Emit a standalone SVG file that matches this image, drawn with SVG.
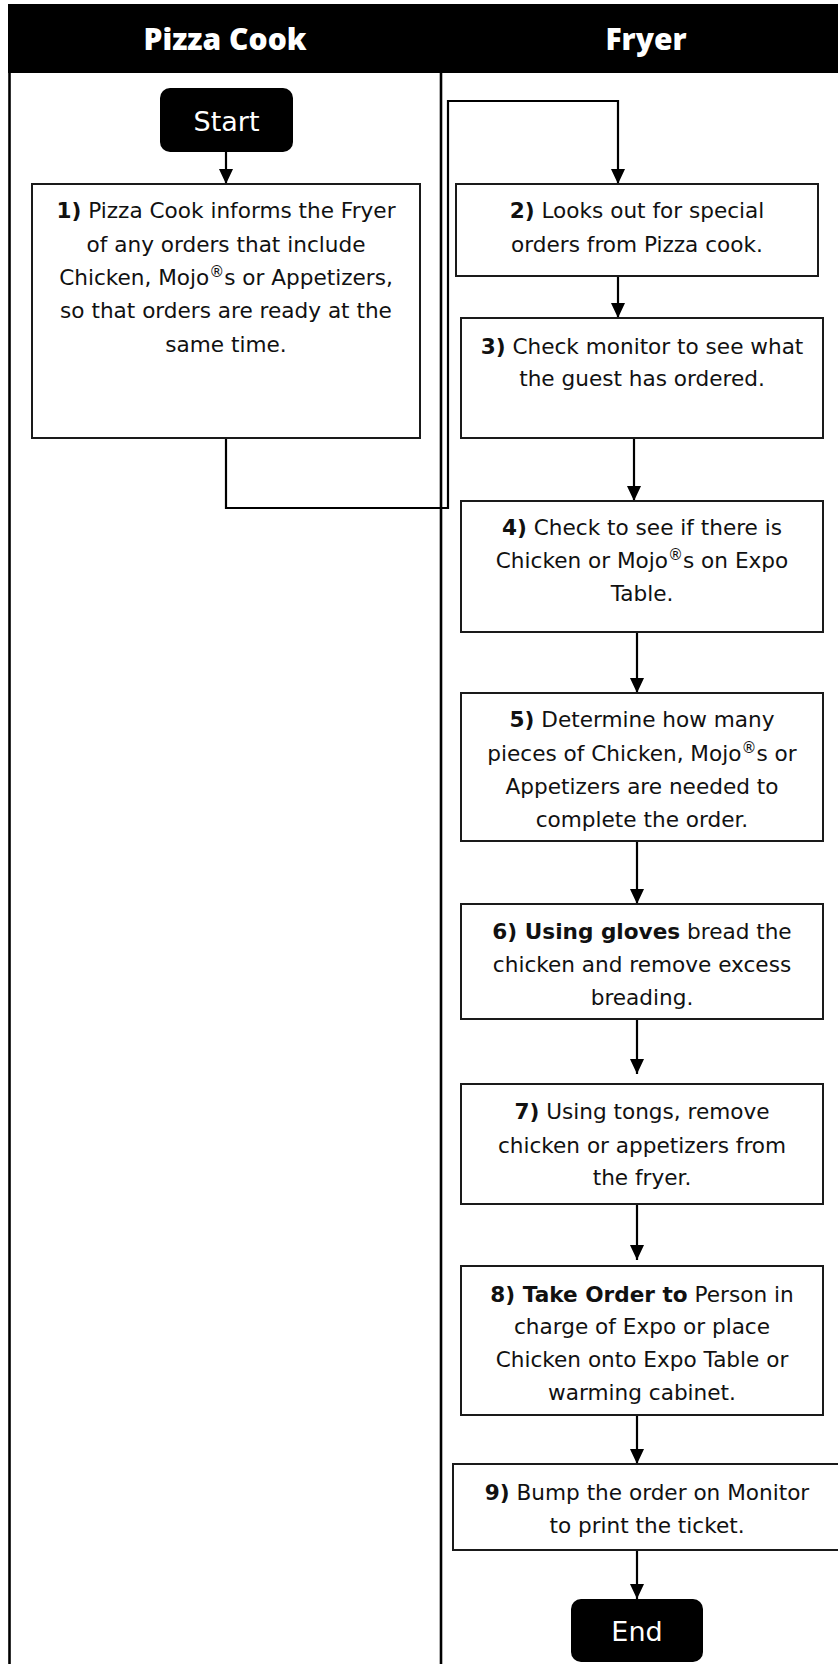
<svg xmlns="http://www.w3.org/2000/svg" width="838" height="1664" viewBox="0 0 838 1664">
<defs>
<style>
.lane{fill:#000}
.hdr{font-family:"Open Sans","Liberation Sans",sans-serif;font-weight:800;font-size:30px;fill:#fff;text-anchor:middle}
.box{fill:#fff;stroke:#1a1a1a;stroke-width:2}
.term{fill:#000}
.tt{font-family:"DejaVu Sans","Liberation Sans",sans-serif;font-size:27px;fill:#fff;text-anchor:middle}
.t{font-family:"DejaVu Sans","Liberation Sans",sans-serif;font-size:21.6px;fill:#111;text-anchor:middle}
.b{font-weight:bold}
.sup{font-size:15px}
.conn{fill:none;stroke:#000;stroke-width:2.2}
.line{stroke:#000;stroke-width:2.6}
</style>
<marker id="ah" viewBox="0 0 15 14" refX="15" refY="7" markerWidth="15" markerHeight="14" markerUnits="userSpaceOnUse" orient="auto">
<path d="M0,0 L15,7 L0,14 Z" fill="#000"/>
</marker>
</defs>
<rect width="838" height="1664" fill="#fff"/>
<g id="lanes">
<rect class="lane" x="8" y="4" width="845" height="69"/>
<line class="line" x1="9.5" y1="72" x2="9.5" y2="1664"/>
<line class="line" x1="441" y1="72" x2="441" y2="1664"/>
<text class="hdr" x="225" y="50">Pizza Cook</text>
<text class="hdr" x="646" y="50">Fryer</text>
</g>
<g id="connectors">
<line class="conn" x1="226" y1="152" x2="226" y2="184" marker-end="url(#ah)"/>
<polyline class="conn" points="226,438 226,508 448,508 448,101 618,101 618,184" marker-end="url(#ah)"/>
<line class="conn" x1="618" y1="276" x2="618" y2="318" marker-end="url(#ah)"/>
<line class="conn" x1="634" y1="438" x2="634" y2="501" marker-end="url(#ah)"/>
<line class="conn" x1="637" y1="632" x2="637" y2="693" marker-end="url(#ah)"/>
<line class="conn" x1="637" y1="841" x2="637" y2="904" marker-end="url(#ah)"/>
<line class="conn" x1="637" y1="1019" x2="637" y2="1074" marker-end="url(#ah)"/>
<line class="conn" x1="637" y1="1204" x2="637" y2="1260" marker-end="url(#ah)"/>
<line class="conn" x1="637" y1="1415" x2="637" y2="1464" marker-end="url(#ah)"/>
<line class="conn" x1="637" y1="1550" x2="637" y2="1599" marker-end="url(#ah)"/>
</g>
<g id="start">
<rect class="term" x="160" y="88" width="133" height="64" rx="10"/>
<text class="tt" x="226.5" y="131">Start</text>
</g>
<g id="step1">
<rect class="box" x="32" y="184" width="388" height="254"/>
<text class="t" x="226" y="218"><tspan class="b">1)</tspan> Pizza Cook informs the Fryer</text>
<text class="t" x="226" y="252">of any orders that include</text>
<text class="t" x="226" y="285">Chicken, Mojo<tspan class="sup" dy="-8">®</tspan><tspan dy="8">s or Appetizers,</tspan></text>
<text class="t" x="226" y="318">so that orders are ready at the</text>
<text class="t" x="226" y="352">same time.</text>
</g>
<g id="step2">
<rect class="box" x="456" y="184" width="362" height="92"/>
<text class="t" x="637" y="218"><tspan class="b">2)</tspan> Looks out for special</text>
<text class="t" x="637" y="252">orders from Pizza cook.</text>
</g>
<g id="step3">
<rect class="box" x="461" y="318" width="362" height="120"/>
<text class="t" x="642" y="354"><tspan class="b">3)</tspan> Check monitor to see what</text>
<text class="t" x="642" y="386">the guest has ordered.</text>
</g>
<g id="step4">
<rect class="box" x="461" y="501" width="362" height="131"/>
<text class="t" x="642" y="535"><tspan class="b">4)</tspan> Check to see if there is</text>
<text class="t" x="642" y="568">Chicken or Mojo<tspan class="sup" dy="-8">®</tspan><tspan dy="8">s on Expo</tspan></text>
<text class="t" x="642" y="601">Table.</text>
</g>
<g id="step5">
<rect class="box" x="461" y="693" width="362" height="148"/>
<text class="t" x="642" y="727"><tspan class="b">5)</tspan> Determine how many</text>
<text class="t" x="642" y="761">pieces of Chicken, Mojo<tspan class="sup" dy="-8">®</tspan><tspan dy="8">s or</tspan></text>
<text class="t" x="642" y="794">Appetizers are needed to</text>
<text class="t" x="642" y="827">complete the order.</text>
</g>
<g id="step6">
<rect class="box" x="461" y="904" width="362" height="115"/>
<text class="t" x="642" y="939"><tspan class="b">6) Using gloves</tspan> bread the</text>
<text class="t" x="642" y="972">chicken and remove excess</text>
<text class="t" x="642" y="1005">breading.</text>
</g>
<g id="step7">
<rect class="box" x="461" y="1084" width="362" height="120"/>
<text class="t" x="642" y="1119"><tspan class="b">7)</tspan> Using tongs, remove</text>
<text class="t" x="642" y="1153">chicken or appetizers from</text>
<text class="t" x="642" y="1185">the fryer.</text>
</g>
<g id="step8">
<rect class="box" x="461" y="1266" width="362" height="149"/>
<text class="t" x="642" y="1302"><tspan class="b">8) Take Order to</tspan> Person in</text>
<text class="t" x="642" y="1334">charge of Expo or place</text>
<text class="t" x="642" y="1367">Chicken onto Expo Table or</text>
<text class="t" x="642" y="1400">warming cabinet.</text>
</g>
<g id="step9">
<rect class="box" x="453" y="1464" width="386" height="86"/>
<text class="t" x="647" y="1500"><tspan class="b">9)</tspan> Bump the order on Monitor</text>
<text class="t" x="647" y="1533">to print the ticket.</text>
</g>
<g id="end">
<rect class="term" x="571" y="1599" width="132" height="63" rx="10"/>
<text class="tt" x="637" y="1641">End</text>
</g>
</svg>
